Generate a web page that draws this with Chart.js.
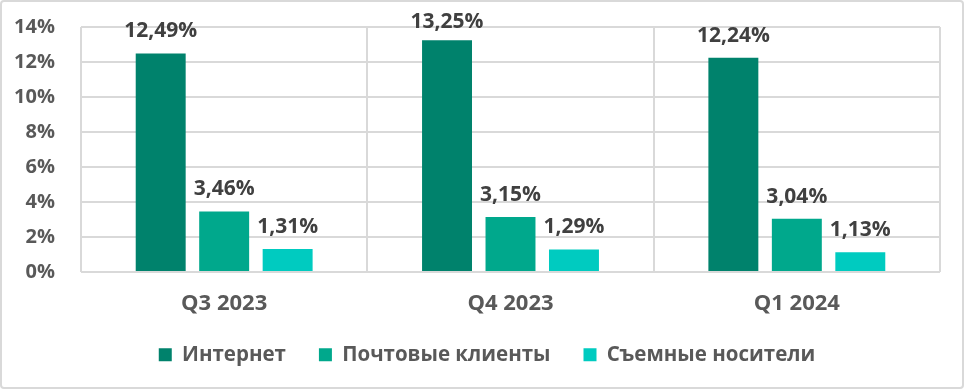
<!DOCTYPE html>
<html>
<head>
<meta charset="utf-8">
<script src="https://cdn.jsdelivr.net/npm/chart.js@4.4.1/dist/chart.umd.min.js"></script>
<style>
  html, body { margin: 0; padding: 0; background: #fff; }
  #wrap { width: 964px; height: 389px; position: relative; }
</style>
</head>
<body>
<div id="wrap"><canvas id="c" width="964" height="389"></canvas></div>
<script>
const categories = ['Q3 2023', 'Q4 2023', 'Q1 2024'];
const seriesNames = ['Интернет', 'Почтовые клиенты', 'Съемные носители'];
const internet = [12.49, 13.25, 12.24];
const mailClients = [3.46, 3.15, 3.04];
const removable = [1.31, 1.29, 1.13];
const yTicks = [0, 2, 4, 6, 8, 10, 12, 14];
const colors = ['#00826C', '#00A88C', '#00CBC0'];

const FONT = '"Open Sans", Lato, sans-serif';

const bgPlugin = {
  id: 'bg',
  beforeDraw(chart) {
    const ctx = chart.ctx;
    ctx.save();
    ctx.fillStyle = '#fff';
    ctx.fillRect(0, 0, chart.width, chart.height);
    ctx.strokeStyle = '#d9d9d9';
    ctx.lineWidth = 2;
    ctx.beginPath();
    ctx.roundRect(1, 1, chart.width - 2, chart.height - 2, 3);
    ctx.stroke();
    ctx.restore();
  }
};

const legendShift = {
  id: 'legendShift',
  afterLayout(chart) {
    const lg = chart.legend;
    if (!lg) return;
    lg.left += 12; lg.right += 12;
    lg.top -= 14; lg.bottom -= 14;
  }
};

const labelPlugin = {
  id: 'valueLabels',
  afterDatasetsDraw(chart) {
    const ctx = chart.ctx;
    ctx.save();
    ctx.font = 'bold 21px ' + FONT;
    ctx.fillStyle = '#404040';
    ctx.textAlign = 'center';
    ctx.textBaseline = 'alphabetic';
    chart.data.datasets.forEach((ds, i) => {
      const meta = chart.getDatasetMeta(i);
      meta.data.forEach((bar, j) => {
        const txt = ds.data[j].toFixed(2).replace('.', ',') + '%';
        ctx.fillText(txt, bar.x, Math.max(bar.y - 16, chart.chartArea.top + 1));
      });
    });
    ctx.restore();
  }
};

new Chart(document.getElementById('c'), {
  type: 'bar',
  data: {
    labels: categories,
    datasets: [
      { label: seriesNames[0], data: internet, backgroundColor: colors[0] },
      { label: seriesNames[1], data: mailClients, backgroundColor: colors[1] },
      { label: seriesNames[2], data: removable, backgroundColor: colors[2] }
    ]
  },
  options: {
    responsive: false,
    animation: false,
    devicePixelRatio: 1,
    layout: { padding: { top: 27, right: 24, left: 10, bottom: 0 } },
    datasets: {
      bar: { categoryPercentage: 0.665, barPercentage: 0.787 }
    },
    scales: {
      x: {
        offset: true,
        grid: { offset: true, color: '#d9d9d9', lineWidth: 2, drawTicks: false },
        border: { display: false },
        ticks: { color: '#595959', font: { family: FONT, size: 22, weight: 'bold' }, padding: 19 },
        afterFit(s) { s.height = 53.5; }
      },
      y: {
        min: 0, max: 14,
        afterBuildTicks(s) { s.ticks = yTicks.map(v => ({ value: v })); },
        grid: { color: '#d9d9d9', lineWidth: 2, drawTicks: false },
        border: { display: false },
        ticks: {
          color: '#595959',
          font: { family: FONT, size: 20, weight: 'bold' },
          padding: 26,
          callback: v => v + '%'
        },
        afterFit(s) { s.width = 71; s.paddingTop = 0; s.paddingBottom = 0; }
      }
    },
    plugins: {
      legend: {
        position: 'bottom',
        labels: {
          color: '#595959',
          font: { family: FONT, size: 20.5, weight: 'bold' },
          boxWidth: 13,
          boxHeight: 13,
          padding: 33
        }
      },
      tooltip: { enabled: false }
    }
  },
  plugins: [bgPlugin, legendShift, labelPlugin]
});
</script>
</body>
</html>
